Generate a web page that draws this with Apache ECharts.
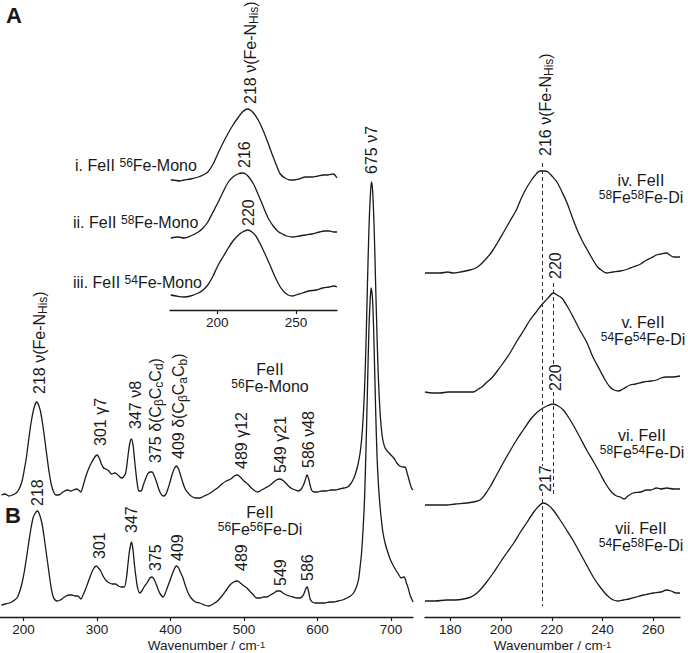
<!DOCTYPE html>
<html><head><meta charset="utf-8">
<script src="https://cdn.jsdelivr.net/npm/echarts@6/dist/echarts.min.js"></script>
<style>html,body{margin:0;padding:0;background:#fff}#c{width:688px;height:653px}</style>
</head><body><div id="c"></div>
<script>
// ---------- DATA (wavenumber cm-1, relative intensity a.u.) ----------
const mainTicks = [200, 300, 400, 500, 600, 700];
const insetTicks = [200, 250];
const zoomTicks = [180, 200, 220, 240, 260];
const markerWn = [216.3, 220.5];

// A: FeII 56Fe-Mono (full range)
const monoSpec = [[170,0],[175,1],[180,-1],[185,0],[190,2],[194,6],[198,14],[201,25],[204,38],[207,55],[210,71],[213,83],[216,91],[218,93],[220,91],[223,84],[226,71],[229,55],[232,38],[235,22],[238,10],[241,3],[244,0],[248,0],[252,2],[256,4],[260,5],[264,4],[268,5],[272,6],[275,5],[278,3],[281,9],[285,19],[289,27],[293,33],[297,38],[300,40],[303,37],[306,31],[309,27],[312,26],[316,24],[320,21],[324,22],[327,21],[330,19],[333,17],[336,18],[339,22],[341,32],[343,44],[345,53],[347,56],[349,50],[351,36],[353,22],[355,10],[357,4],[360,4],[363,10],[366,16],[369,21],[372,23],[375,23],[378,19],[381,13],[384,6],[387,1],[390,-1],[393,0],[396,5],[399,12],[402,20],[405,26],[408,29],[411,26],[414,19],[417,12],[420,6],[424,2],[428,-1],[434,-3],[440,-3],[446,-1],[452,1],[458,4],[464,7],[470,11],[476,14],[482,16],[487,19],[491,20],[495,18],[500,14],[505,11],[510,7],[515,4],[519,3],[524,5],[529,7],[534,9],[539,12],[544,15],[549,16],[554,14],[558,11],[562,8],[566,6],[570,5],[574,4],[578,6],[581,10],[583,14],[585,19],[586,20],[588,16],[590,10],[592,5],[595,3],[600,3],[606,4],[612,4],[618,5],[624,5],[630,6],[636,7],[641,8],[645,11],[649,16],[652,22],[655,30],[658,42],[660,55],[662,75],[664,105],[666,150],[668,210],[670,265],[672,300],[673.5,313],[675,305],[677,270],[679,215],[681,160],[683,115],[685,85],[687,66],[689,55],[692,47],[696,43],[700,40],[704,37],[708,32],[712,29],[716,28],[719,28],[722,22],[725,14],[728,7],[730,5]];

// B: FeII 56Fe56Fe-Di (full range)
const diSpec = [[170,0],[175,1],[181,2],[186,4],[191,7],[195,14],[198,22],[201,33],[204,47],[207,62],[210,76],[213,87],[216,92],[219,94],[222,90],[225,82],[228,68],[231,52],[234,36],[237,20],[240,9],[243,5],[246,4],[250,5],[254,7],[258,9],[262,10],[266,10],[270,9],[274,9],[278,6],[281,10],[284,15],[287,21],[291,29],[295,36],[299,39],[302,37],[305,34],[309,28],[313,24],[317,22],[321,21],[325,21],[329,19],[333,18],[337,18],[340,27],[342,40],[344,53],[346,61],[347,63],[349,55],[351,40],[353,28],[355,18],[358,12],[361,14],[364,18],[368,22],[372,27],[375,28],[378,25],[381,20],[384,14],[387,10],[390,8],[393,12],[396,18],[400,26],[404,34],[408,39],[411,37],[414,32],[417,27],[420,20],[424,12],[428,7],[434,3],[440,2],[446,0],[452,-1],[458,1],[464,4],[470,9],[476,15],[481,20],[486,23],[491,24],[495,22],[500,19],[504,17],[509,13],[513,10],[517,7],[522,7],[527,8],[531,8],[536,10],[541,12],[545,14],[549,14],[553,12],[558,10],[562,9],[567,8],[572,7],[576,7],[580,9],[582,12],[584,16],[586,18],[588,13],[590,6],[593,3],[597,2],[603,2],[610,2],[616,3],[622,3],[628,4],[634,5],[640,7],[645,9],[649,12],[653,18],[656,26],[658,38],[660,52],[662,75],[664,105],[666,155],[668,215],[670,275],[671.5,302],[673,317],[675,305],[677,260],[679,200],[681,150],[683,120],[685,100],[687,85],[689,73],[692,62],[696,52],[700,44],[705,37],[710,31],[714,27],[717,28],[719,27],[721,22],[723,18],[726,10],[730,3]];

// Inset: Fe-NHis region, monomers
const monoI = [[170.5,0],[172,0],[176,-1],[179,0],[183,1],[188,3],[191,5],[194,8],[197,15],[200,25],[203,35],[207,47],[210,55],[213.5,63],[216,68],[219,71],[221,70],[223,67],[226,60],[229,50],[232,38],[235,25],[238,13],[240,6],[243,2],[246,0],[249,0],[252,1],[256,3],[260,3],[264,4],[267,5],[270,5],[273.6,6],[276,2]];
const monoII = [[170.5,0],[175,1],[179,0],[183,2],[188,6],[191,10],[194,16],[197,25],[200.6,36],[204,47],[207,56],[210,61],[213,64],[216,65],[218,64],[220,61],[223,54],[225.3,46],[228,36],[230.6,26],[233,18],[236,11],[239,6],[241.4,4],[244,2],[248,1],[252,2],[256,3],[260,4],[265,6],[268,7],[271,7],[274,6],[276,6]];
const monoIII = [[170.5,1],[174,0],[179,-1],[183,0],[188,3],[191,6],[194,11],[197,19],[200.6,31],[204,40],[207,48],[210,55],[213.5,61],[216,64],[219.5,66],[222,64],[224.5,60],[227,53],[230.6,41],[234,29],[237,18],[240,9],[242.5,4],[245,1],[247.5,0],[250,1],[254,3],[258,5],[263,6],[267,8],[271,9],[274,10],[276,9]];

// Right: Fe-NHis region, dimers
const diIV = [[170,0],[173,0],[176,0],[179,1],[181,0],[184,1],[187.7,3],[190,5],[191.7,8],[194,14],[196,20],[198.5,30],[200.8,40],[203.5,52],[206,63],[208,75],[210,85],[212,93],[213.5,98],[215.3,102],[217,102],[218.5,101],[220,97],[222,91],[224,81],[226,70],[228,56],[230,43],[232,32],[234,23],[236,14],[238,6],[240,2],[241.5,0],[244,1],[247,2],[250,4],[252,6],[255,9],[257.3,13],[259,15],[261.2,18],[263,19],[265.2,20],[266.5,18],[268,16],[270.5,16]];
const diV = [[170,0],[173,-1],[176,-1],[179,0],[182.6,0],[186,0],[189,0],[191,3],[192.4,5],[194,9],[196.3,14],[198.5,21],[200.8,29],[203.5,39],[206,50],[209,62],[211.4,72],[213.5,79],[215.3,85],[217,90],[218.5,94],[220.6,99],[222,97],[223.9,94],[226,86],[228.4,75],[231,62],[233.7,50],[236,36],[238.9,22],[241,12],[242.9,5],[244.5,2],[246.2,1],[248,3],[250.8,7],[253,8],[256,10],[259,11],[261.3,12],[263,14],[265.2,15],[267.5,15],[270.5,16]];
const diVI = [[170,0],[174,0],[178.5,0],[182,1],[186.4,2],[189,3],[191.7,5],[193.5,10],[195.6,18],[198,29],[200.8,42],[203.5,54],[206.1,65],[209,76],[211.4,85],[213.5,91],[215.3,95],[218,99],[220.5,101],[222.5,99],[224.5,95],[226.5,88],[228.4,80],[231,68],[233.7,55],[236.5,43],[238.9,32],[241,22],[243.5,13],[245.5,9],[247,8],[248.5,6],[250,9],[252,12],[255,13],[257.3,15],[259,15],[261.2,17],[263,16],[265.2,17],[268,16],[270.5,16]];
const diVII = [[170,0],[174,0],[178.5,1],[182,1],[187,3],[189.5,6],[191.7,11],[194,18],[196.9,28],[199.5,38],[202.2,48],[205,58],[207.4,68],[210,78],[212.6,88],[214.5,94],[216.6,98],[218.5,96],[220.5,91],[223,82],[225.8,71],[228.5,60],[231.1,48],[233.7,36],[236.3,24],[239,14],[241.6,6],[243,3],[244.2,1],[246,0],[248.2,1],[250.5,2],[253.4,4],[256,6],[258,7],[260,8],[263,9],[265.2,11],[267,10],[269,8],[270.5,8]];

// ---------- CHART ----------
const FONT = '"Liberation Sans", Arial, Helvetica, sans-serif';
const INK = '#1a1a1a';
const chart = echarts.init(document.getElementById('c'), null, {renderer: 'svg'});

// vertical stacking offsets (layout only)
const OFF = {mono: 122, di: 12, i: 130, ii: 72, iii: 14, iv: 344, v: 225, vi: 112, vii: 16};
const shift = (arr, o) => arr.map(p => [p[0], p[1] + o]);

function xAxisCfg(grid, min, max, ticks, fs, nameFs) {
  return {
    type: 'value', gridIndex: grid, min: min, max: max,
    axisLine: {show: true, onZero: false, lineStyle: {color: INK, width: 1.3}},
    axisTick: {show: true, length: 4, lineStyle: {color: INK, width: 1.2}, customValues: ticks},
    axisLabel: {show: true, color: INK, fontSize: fs, fontFamily: FONT, margin: 6, lineHeight: 13, customValues: ticks},
    splitLine: {show: false},
    name: nameFs ? 'Wavenumber / cm{sup|-1}' : '',
    nameLocation: 'middle', nameGap: 22, nameMoveOverlap: false,
    nameTextStyle: {color: INK, fontSize: nameFs || 12, fontFamily: FONT, lineHeight: 13,
      rich: {sup: {fontSize: 9.5, verticalAlign: 'top', fontFamily: FONT, color: INK, lineHeight: 13}}}
  };
}
function yAxisCfg(grid, max) {
  return {type: 'value', gridIndex: grid, min: 0, max: max, show: false};
}
function spec(name, data, xi, off) {
  return {
    name: name, type: 'line', xAxisIndex: xi, yAxisIndex: xi,
    data: shift(data, off), showSymbol: false, symbol: 'none', smooth: 0.3,
    lineStyle: {color: INK, width: 1.3}, silent: true, animation: false, clip: true
  };
}

// dashed marker lines on the right panel (value units of that y axis)
const dashSeg = [
  [markerWn[0], 454, 151], [markerWn[0], 125, 11],
  [markerWn[1], 334, 251], [markerWn[1], 225, 120]
];

const series = [
  spec('Mono', monoSpec, 0, OFF.mono),
  spec('Di', diSpec, 0, OFF.di),
  spec('i', monoI, 1, OFF.i),
  spec('ii', monoII, 1, OFF.ii),
  spec('iii', monoIII, 1, OFF.iii),
  spec('iv', diIV, 2, OFF.iv),
  spec('v', diV, 2, OFF.v),
  spec('vi', diVI, 2, OFF.vi),
  spec('vii', diVII, 2, OFF.vii),
  {
    type: 'line', xAxisIndex: 2, yAxisIndex: 2, data: [], silent: true, animation: false,
    markLine: {
      silent: true, symbol: ['none', 'none'], animation: false, label: {show: false},
      lineStyle: {color: '#333', width: 1, type: [4, 3]},
      data: dashSeg.map(s => [{coord: [s[0], s[1]]}, {coord: [s[0], s[2]]}])
    }
  }
];

// ---------- annotations ----------
const RFS = 16;   // rotated label font size
const HFS = 16;   // horizontal label font size
const g = [];
function rot(x, yBottom, text) {
  g.push({type: 'text', x: x, y: yBottom, rotation: Math.PI / 2, silent: true,
    style: {text: text, fontSize: RFS, fontFamily: FONT, fill: INK, align: 'left', verticalAlign: 'middle',
      rich: {
        sub: {fontSize: 12, verticalAlign: 'bottom', fontFamily: FONT, fill: INK, lineHeight: 20},
        n: {fontSize: RFS, fontFamily: FONT, fill: INK, lineHeight: 20}
      }}});
}
function hz(x, y, text, align, fs, bold) {
  g.push({type: 'text', x: x, y: y, silent: true,
    style: {text: text, fontSize: fs || HFS, fontFamily: FONT, fill: INK, fontWeight: bold ? 'bold' : 'normal',
      align: align || 'center', verticalAlign: 'middle', lineHeight: 17,
      rich: {
        sup: {fontSize: 12, verticalAlign: 'top', fontFamily: FONT, fill: INK, lineHeight: 17},
        n: {fontSize: fs || HFS, fontFamily: FONT, fill: INK, lineHeight: 17}
      }}});
}
const NH = '{n|ν(Fe-N}{sub|His}{n|)}';
// panel letters
hz(6, 15, 'A', 'left', 22, true);
hz(5, 515, 'B', 'left', 22, true);
// main upper trace labels
rot(39, 394, '{n|218 }' + NH);
rot(100, 446, '301 γ7');
rot(135, 429, '347 ν8');
rot(155, 463, '{n|375 δ(C}{sub|β}{n|C}{sub|c}{n|C}{sub|d}{n|)}');
rot(178.5, 459, '{n|409 δ(C}{sub|β}{n|C}{sub|a}{n|C}{sub|b}{n|)}');
rot(241, 469, '489 γ12');
rot(280, 473, '549 γ21');
rot(308.5, 468, '586 ν48');
rot(371, 174, '675 ν7');
hz(270, 377.5, '{n|FeII}\n{sup|56}{n|Fe-Mono}');
// main lower trace labels
rot(37.5, 506, '218');
rot(99.5, 559, '301');
rot(131, 533, '347');
rot(155, 571, '375');
rot(177.5, 561, '409');
rot(241, 571, '489');
rot(280, 586, '549');
rot(307.5, 581, '586');
hz(260, 521, '{n|FeII}\n{sup|56}{n|Fe}{sup|56}{n|Fe-Di}');
// inset labels
hz(75, 165, '{n|i. FeII }{sup|56}{n|Fe-Mono}', 'left');
hz(73, 222, '{n|ii. FeII }{sup|58}{n|Fe-Mono}', 'left');
hz(73, 282, '{n|iii. FeII }{sup|54}{n|Fe-Mono}', 'left');
rot(250, 104, '{n|218 }' + NH);
rot(244, 168, '216');
rot(248.5, 226, '220');
// right panel labels
rot(545, 156, '{n|216 }' + NH);
rot(555.5, 279, '220');
rot(555.5, 391, '220');
rot(545.5, 492, '217');
hz(641, 189, '{n|iv. FeII}\n{sup|58}{n|Fe}{sup|58}{n|Fe-Di}');
hz(643, 330.5, '{n|v. FeII}\n{sup|54}{n|Fe}{sup|54}{n|Fe-Di}');
hz(642, 444, '{n|vi. FeII}\n{sup|58}{n|Fe}{sup|54}{n|Fe-Di}');
hz(641, 536.5, '{n|vii. FeII}\n{sup|54}{n|Fe}{sup|58}{n|Fe-Di}');

chart.setOption({
  backgroundColor: '#fff',
  animation: false,
  grid: [
    {left: 0, right: 275, top: 117, bottom: 36, containLabel: false, outerBoundsMode: 'none'},
    {left: 170, right: 351, top: 10, bottom: 343, containLabel: false, outerBoundsMode: 'none'},
    {left: 425, right: 8, top: 117, bottom: 36, containLabel: false, outerBoundsMode: 'none'}
  ],
  xAxis: [
    xAxisCfg(0, 168, 730, mainTicks, 13.5, 13.5),
    xAxisCfg(1, 170, 276, insetTicks, 13.5, 0),
    xAxisCfg(2, 170, 270.5, zoomTicks, 13.5, 13.5)
  ],
  yAxis: [yAxisCfg(0, 500), yAxisCfg(1, 300), yAxisCfg(2, 500)],
  series: series,
  graphic: g
});
</script>
</body></html>
